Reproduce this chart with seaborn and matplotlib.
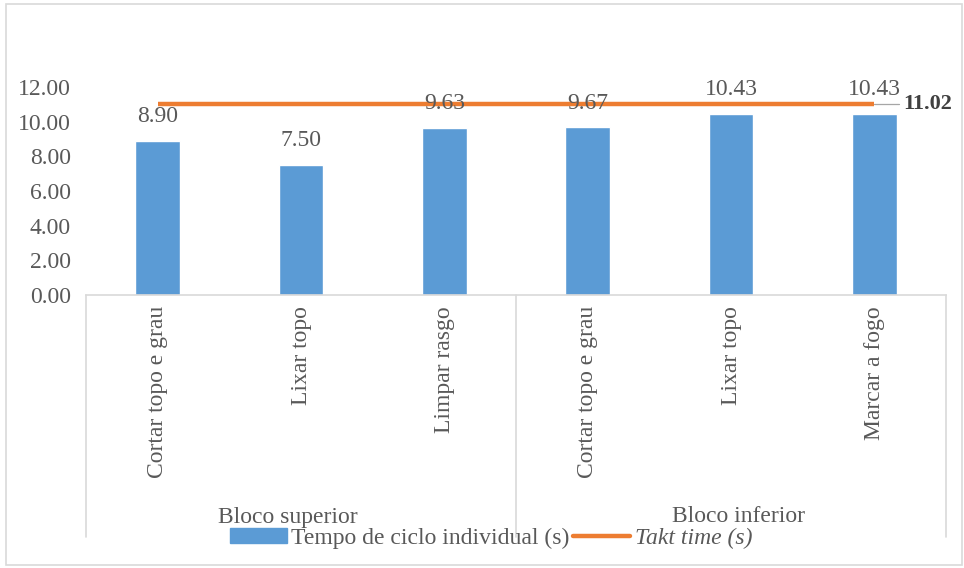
import matplotlib
matplotlib.use("Agg")
import matplotlib.pyplot as plt
import matplotlib.patches as mpatches
import matplotlib.lines as mlines
import seaborn as sns
import pandas as pd

# Chart data
groups = ["Bloco superior", "Bloco inferior"]
operations = ["Cortar topo e grau", "Lixar topo", "Limpar rasgo",
              "Cortar topo e grau", "Lixar topo", "Marcar a fogo"]
group_of_op = [0, 0, 0, 1, 1, 1]
cycle_times = [8.90, 7.50, 9.63, 9.67, 10.43, 10.43]
takt_time = [11.02, 11.02, 11.02, 11.02, 11.02, 11.02]
y_ticks = [0, 2, 4, 6, 8, 10, 12]

BLUE = "#5B9BD5"
ORANGE = "#ED7D31"
GRID = "#D9D9D9"
TXT = "#595959"
FS = 17

sns.set_theme(style="white")
plt.rcParams["font.family"] = ["Liberation Serif", "DejaVu Serif"]

fig = plt.figure(figsize=(9.64, 5.68), dpi=100)
ax = fig.add_axes([86 / 964, 273 / 568, 860 / 964, 208 / 568])

df = pd.DataFrame({
    "pos": [str(i) for i in range(len(operations))],
    "op": operations,
    "cycle": cycle_times,
    "takt": takt_time,
})

sns.barplot(data=df, x="pos", y="cycle", color=BLUE, width=0.31,
            saturation=1, ax=ax, order=df["pos"].tolist())
ax.plot(range(len(takt_time)), takt_time, color=ORANGE, lw=3.2,
        solid_capstyle="butt", zorder=3)

ax.set_xlim(-0.5, len(operations) - 0.5)
ax.set_ylim(0, 12)
ax.set_yticks(y_ticks)
ax.set_yticklabels([f"{v:.2f}" for v in y_ticks], fontsize=FS, color=TXT)
ax.tick_params(axis="y", length=0, pad=11)
ax.set_xticks(range(len(operations)))
ax.set_xticklabels(operations, rotation=90, fontsize=FS, color=TXT,
                   va="top", ha="center")
ax.tick_params(axis="x", length=0, pad=8)
ax.set_xlabel("")
ax.set_ylabel("")

for side in ["left", "right", "top"]:
    ax.spines[side].set_visible(False)
ax.spines["bottom"].set_color(GRID)
ax.spines["bottom"].set_linewidth(1.2)

# Value labels above bars
for i, v in enumerate(cycle_times):
    ax.text(i, v + 0.8, f"{v:.2f}", ha="center", va="bottom",
            fontsize=FS, color=TXT, zorder=4)

# Takt time label with leader line
last = len(takt_time) - 1
ax.plot([last, last + 0.17], [takt_time[last], takt_time[last]],
        color="#A6A6A6", lw=0.9, clip_on=False)
ax.text(last + 0.2, takt_time[last], f"{takt_time[last]:.2f}",
        ha="left", va="center", fontsize=16, fontweight="bold",
        color="#404040", clip_on=False)

# Group separators and group labels below the axis
sep_bottom = -242 / 208
trans = ax.get_xaxis_transform()
bounds = [-0.5, 2.5, 5.5]
for x in bounds:
    ax.plot([x, x], [0, sep_bottom], transform=trans, color=GRID,
            lw=1.2, clip_on=False)
label_shift = [-0.09, 0.05]
for g, name in enumerate(groups):
    idx = [i for i, gi in enumerate(group_of_op) if gi == g]
    cx = (min(idx) + max(idx)) / 2
    ax.text(cx + label_shift[g], -222 / 208, name, transform=trans,
            ha="center", va="center", fontsize=FS, color=TXT)

# Legend
handles = [
    mpatches.Patch(color=BLUE, label="Tempo de ciclo individual (s)"),
    mlines.Line2D([], [], color=ORANGE, lw=3.2, label="Takt time (s)"),
]
leg = fig.legend(handles=handles, loc="center",
                 bbox_to_anchor=(491 / 964, 1 - 538 / 568),
                 ncol=2, frameon=False, fontsize=FS, handlelength=2.4,
                 handletextpad=0.2, columnspacing=0.15, handleheight=0.6,
                 borderpad=0, borderaxespad=0)
for t in leg.get_texts():
    t.set_color(TXT)
leg.get_texts()[1].set_style("italic")

# Outer chart border
fig.add_artist(mpatches.Rectangle((6 / 964, 3 / 568), 1 - 8 / 964, 1 - 7 / 568,
                                  transform=fig.transFigure, fill=False,
                                  edgecolor=GRID, lw=1.2))

fig.savefig("out.png", dpi=100)
